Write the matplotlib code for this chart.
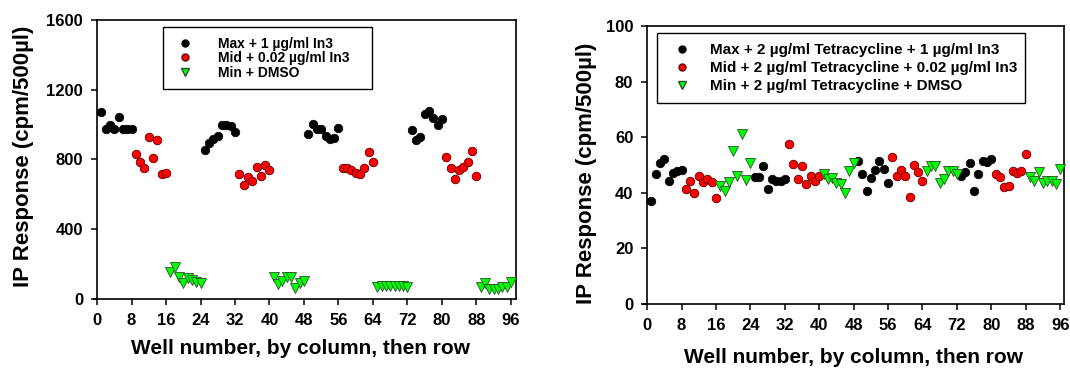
import matplotlib
matplotlib.use('Agg')
import matplotlib.pyplot as plt
from matplotlib.lines import Line2D

plt.rcParams['font.family'] = ['Liberation Sans', 'DejaVu Sans']
plt.rcParams['font.weight'] = 'bold'

# ---------------- data ----------------
max_wells = list(range(1, 9)) + list(range(25, 33)) + list(range(49, 57)) + list(range(73, 81))
mid_wells = list(range(9, 17)) + list(range(33, 41)) + list(range(57, 65)) + list(range(81, 89))
min_wells = list(range(17, 25)) + list(range(41, 49)) + list(range(65, 73)) + list(range(89, 97))

left_max = [1070, 975, 995, 975, 1045, 975, 975, 975,
            857, 892, 915, 934, 996, 997, 992, 959,
            944, 1001, 973, 973, 934, 915, 925, 982,
            967, 912, 930, 1060, 1078, 1040, 998, 1030]
left_mid = [830, 785, 750, 930, 810, 910, 718, 720,
            717, 656, 700, 679, 758, 704, 771, 737,
            752, 752, 737, 723, 719, 752, 842, 787,
            815, 752, 689, 742, 758, 785, 848, 704]
left_min = [157, 182, 128, 90, 119, 109, 100, 90,
            128, 84, 105, 128, 125, 61, 94, 105,
            70, 75, 75, 75, 75, 75, 75, 68,
            71, 90, 56, 56, 56, 67, 71, 100]

right_max = [37.2, 46.8, 50.7, 52.3, 44.4, 47.2, 47.8, 48.3,
             45.6, 45.6, 49.5, 41.4, 45.0, 44.4, 44.4, 45.0,
             51.4, 46.8, 40.5, 45.4, 48.3, 51.6, 48.6, 43.5,
             45.9, 47.4, 50.8, 40.5, 46.8, 51.6, 51.0, 52.2]
right_mid = [41.4, 44.4, 40.0, 45.9, 43.8, 45.0, 43.8, 38.1,
             57.4, 50.2, 45.0, 49.5, 43.2, 45.9, 44.4, 46.2,
             52.8, 46.2, 48.3, 46.2, 38.4, 50.1, 47.4, 44.4,
             46.8, 45.6, 42.0, 42.4, 48.0, 47.0, 47.8, 53.8]
right_min = [42.6, 40.8, 43.8, 55.2, 46.2, 61.2, 44.7, 50.6,
             46.8, 45.0, 45.4, 43.5, 43.0, 40.0, 47.8, 50.6,
             47.7, 49.6, 49.8, 43.5, 45.0, 48.0, 48.0, 46.6,
             45.6, 44.2, 47.4, 43.5, 44.4, 44.2, 43.2, 48.6]

left_labels = ['Max + 1 \u00b5g/ml In3', 'Mid + 0.02 \u00b5g/ml In3', 'Min + DMSO']
right_labels = ['Max + 2 \u00b5g/ml Tetracycline + 1 \u00b5g/ml In3',
                'Mid + 2 \u00b5g/ml Tetracycline + 0.02 \u00b5g/ml In3',
                'Min + 2 \u00b5g/ml Tetracycline + DMSO']

x_ticks = list(range(0, 97, 8))
left_yticks = [0, 400, 800, 1200, 1600]
right_yticks = [0, 20, 40, 60, 80, 100]
xlabel = 'Well number, by column, then row'
ylabel = 'IP Response (cpm/500\u00b5l)'

# ---------------- styles ----------------
BLACK = dict(marker='o', color='black', edgecolor='black', s=38, linewidths=0.5)
RED = dict(marker='o', color='#ff0000', edgecolor='#5a0000', s=38, linewidths=0.6)
GREEN = dict(marker='v', color='#00ff00', edgecolor='#2f4f2f', s=52, linewidths=0.6)

fig = plt.figure(figsize=(10.7, 3.71), dpi=100)
axL = fig.add_axes([0.0879, 0.1941, 0.3944, 0.752])
axR = fig.add_axes([0.6012, 0.1806, 0.3932, 0.7493])


def style(ax, xlim, ylim, yticks):
    ax.set_xlim(*xlim)
    ax.set_ylim(*ylim)
    ax.spines['left'].set_position(('data', 0))
    ax.spines['top'].set_bounds(0, xlim[1])
    for sp in ax.spines.values():
        sp.set_linewidth(1.2)
    ax.set_xticks(x_ticks)
    ax.set_yticks(yticks)
    ax.tick_params(direction='out', length=4, width=1.1, labelsize=12, pad=6)
    for lab in ax.get_xticklabels() + ax.get_yticklabels():
        lab.set_fontweight('bold')
    ax.set_xlabel(xlabel, fontsize=15, fontweight='bold')
    ax.set_ylabel(ylabel, fontsize=16, fontweight='bold')


def draw(ax, ymax, ymid, ymin):
    ax.scatter(max_wells, ymax, zorder=3, clip_on=False, **BLACK)
    ax.scatter(mid_wells, ymid, zorder=4, clip_on=False, **RED)
    ax.scatter(min_wells, ymin, zorder=5, clip_on=False, **GREEN)


def handles():
    return [Line2D([], [], linestyle='none', marker='o', color='black', markersize=5),
            Line2D([], [], linestyle='none', marker='o', markerfacecolor='#ff0000',
                   markeredgecolor='#5a0000', markersize=5),
            Line2D([], [], linestyle='none', marker='v', markerfacecolor='#00ff00',
                   markeredgecolor='#2f4f2f', markersize=6)]


draw(axL, left_max, left_mid, left_min)
style(axL, (-0.7, 97.2), (0, 1600), left_yticks)
axL.yaxis.set_label_coords(-0.142, 0.511)
axL.xaxis.set_label_coords(0.49, -0.145)
legL = axL.legend(handles(), left_labels, loc='upper left',
                  bbox_to_anchor=(0.1635, 0.875, 0.495, 0.1), mode='expand',
                  borderaxespad=0, fontsize=10, labelspacing=0.03,
                  handlelength=1.77, handletextpad=1.49, borderpad=0.7,
                  fancybox=False, framealpha=1, edgecolor='black')
legL.get_frame().set_linewidth(1.0)

draw(axR, right_max, right_mid, right_min)
style(axR, (-0.9, 96.9), (0, 100), right_yticks)
axR.yaxis.set_label_coords(-0.11, 0.47)
axR.xaxis.set_label_coords(0.5, -0.16)
legR = axR.legend(handles(), right_labels, loc='upper left',
                  bbox_to_anchor=(0.0326, 0.875, 0.875, 0.1), mode='expand',
                  borderaxespad=0, fontsize=11, labelspacing=0.26,
                  handlelength=1.93, handletextpad=0.86, borderpad=0.67,
                  fancybox=False, framealpha=1, edgecolor='black')
legR.get_frame().set_linewidth(1.0)

fig.savefig('out.png', dpi=100)
